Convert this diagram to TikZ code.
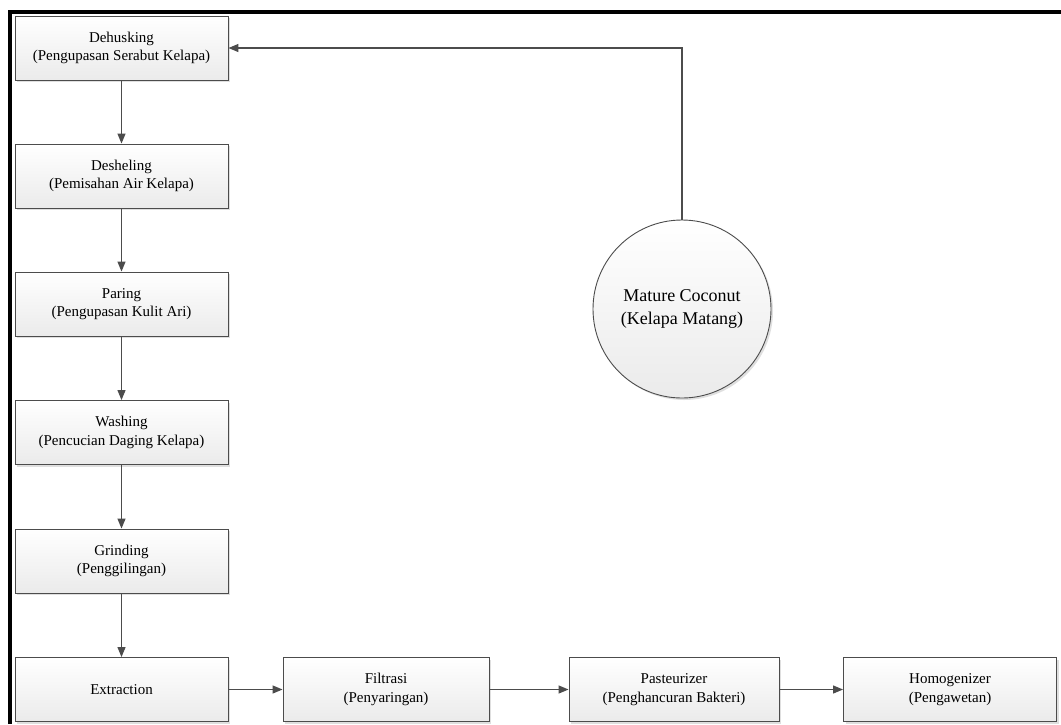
\documentclass[tikz,border=0pt]{standalone}
\usepackage{fontspec}
\setmainfont{Liberation Serif}
\usetikzlibrary{arrows.meta,shadows}
\begin{document}
\begin{tikzpicture}[x=1pt,y=-1pt,
  proc/.style={draw=black!70, line width=0.9pt, minimum width=213pt, minimum height=64pt,
    top color=white, bottom color=black!8, align=center, font=\fontsize{15}{18.5}\selectfont,
    inner sep=0pt, drop shadow={opacity=0.25, shadow xshift=2pt, shadow yshift=-2pt}},
  src/.style={draw=black!70, line width=0.9pt, circle, minimum size=178pt,
    top color=white, bottom color=black!8, align=center, font=\fontsize{18}{22.5}\selectfont,
    inner sep=0pt, drop shadow={opacity=0.25, shadow xshift=2pt, shadow yshift=-2pt}},
  flow/.style={draw=black!70, line width=1.2pt, -{Triangle[length=10pt,width=8pt]}}]
\useasboundingbox (0,0) rectangle (1061,724);
\fill[white] (0,0) rectangle (1061,724);
% frame
\draw[line width=4pt] (10,724) -- (10,12) -- (1061,12);
% nodes
\node[proc] (dehusk) at (121.5,48) {Dehusking\\(Pengupasan Serabut Kelapa)};
\node[proc] (deshel) at (121.5,176) {Desheling\\(Pemisahan Air Kelapa)};
\node[proc] (paring) at (121.5,304) {Paring\\(Pengupasan Kulit Ari)};
\node[proc] (wash) at (121.5,432.5) {Washing\\(Pencucian Daging Kelapa)};
\node[proc] (grind) at (121.5,561) {Grinding\\(Penggilingan)};
\node[proc] (extract) at (121.5,689.5) {Extraction};
\node[proc, minimum width=206pt] (filt) at (386,689.5) {Filtrasi\\(Penyaringan)};
\node[proc, minimum width=210pt] (past) at (674,689.5) {Pasteurizer\\(Penghancuran Bakteri)};
\node[proc] (homo) at (950,689.5) {Homogenizer\\(Pengawetan)};
\node[src] (coco) at (682,309) {Mature Coconut\\(Kelapa Matang)};
% connectors
\draw[flow] (coco.north) |- (dehusk.east);
\draw[flow] (dehusk) -- (deshel);
\draw[flow] (deshel) -- (paring);
\draw[flow] (paring) -- (wash);
\draw[flow] (wash) -- (grind);
\draw[flow] (grind) -- (extract);
\draw[flow] (extract) -- (filt);
\draw[flow] (filt) -- (past);
\draw[flow] (past) -- (homo);
\end{tikzpicture}
\end{document}
